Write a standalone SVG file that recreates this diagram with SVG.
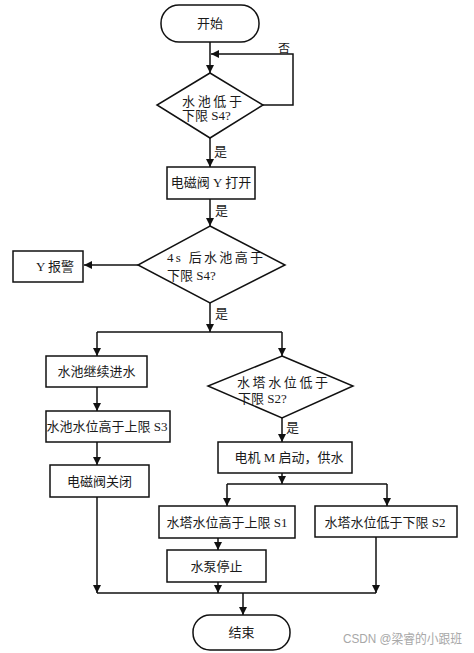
<svg xmlns="http://www.w3.org/2000/svg" width="474" height="653" viewBox="0 0 474 653">
<defs>
<marker id="ah" markerUnits="userSpaceOnUse" markerWidth="9" markerHeight="8" refX="8" refY="4" orient="auto">
<path d="M0,0 L8,4 L0,8 Z" fill="#111"/>
</marker>
<style>
.n{fill:#fff;stroke:#111;stroke-width:1.5}
.c{fill:none;stroke:#111;stroke-width:1.5}
.a{marker-end:url(#ah)}
text{font-family:"Liberation Serif","Noto Sans CJK SC",serif;font-size:13px;fill:#1a1a1a}
.m{text-anchor:middle}
.w{font-family:"Liberation Sans","Noto Sans CJK SC",sans-serif;fill:#a8a8a8}
</style>
</defs>
<rect width="474" height="653" fill="#fff"/>
<g id="connectors">
<line class="c a" x1="210" y1="42" x2="210" y2="73"/>
<polyline class="c a" points="263,105 293,105 293,54 211,54"/>
<line class="c a" x1="210" y1="138" x2="210" y2="167"/>
<line class="c a" x1="210" y1="199" x2="210" y2="226"/>
<line class="c a" x1="138" y1="265" x2="84" y2="265"/>
<line class="c a" x1="210" y1="303" x2="210" y2="332"/>
<line class="c" x1="97" y1="332" x2="282" y2="332"/>
<line class="c a" x1="97" y1="332" x2="97" y2="356"/>
<line class="c a" x1="282" y1="332" x2="282" y2="356"/>
<line class="c a" x1="97" y1="387" x2="97" y2="411"/>
<line class="c a" x1="97" y1="442" x2="97" y2="465"/>
<line class="c a" x1="97" y1="497" x2="97" y2="593"/>
<line class="c a" x1="282" y1="418" x2="282" y2="442"/>
<line class="c a" x1="282" y1="473" x2="282" y2="484"/>
<line class="c" x1="227" y1="484" x2="387" y2="484"/>
<line class="c a" x1="227" y1="484" x2="227" y2="506"/>
<line class="c a" x1="387" y1="484" x2="387" y2="506"/>
<line class="c a" x1="218" y1="538" x2="218" y2="550"/>
<line class="c a" x1="218" y1="582" x2="218" y2="593"/>
<line class="c a" x1="376" y1="537" x2="376" y2="593"/>
<line class="c" x1="97" y1="593" x2="376" y2="593"/>
<line class="c a" x1="243" y1="593" x2="243" y2="615"/>
<text x="284" y="53" class="m" style="font-size:12px">否</text>
<text x="214" y="156">是</text>
<text x="215" y="215">是</text>
<text x="215" y="318">是</text>
<text x="286" y="432">是</text>
</g>
<g id="start">
<rect class="n" x="161" y="5" width="98" height="37" rx="18"/>
<text x="210" y="28" class="m">开始</text>
</g>
<g id="d1">
<polygon class="n" points="210,73 263,105 210,138 157,105"/>
<text x="182" y="106" textLength="60" lengthAdjust="spacing">水池低于</text>
<text x="182" y="120">下限 S4?</text>
</g>
<g id="valveOpen">
<rect class="n" x="167" y="167" width="88" height="32"/>
<text x="211" y="187" class="m">电磁阀 Y 打开</text>
</g>
<g id="d2">
<polygon class="n" points="210,226 285,265 210,303 138,265"/>
<text x="167" y="262" textLength="96" lengthAdjust="spacing">4s 后水池高于</text>
<text x="167" y="280">下限 S4?</text>
</g>
<g id="alarm">
<rect class="n" x="13" y="251" width="70" height="31"/>
<text x="55" y="271" class="m">Y 报警</text>
</g>
<g id="fill">
<rect class="n" x="46" y="356" width="101" height="31"/>
<text x="96.5" y="376" class="m">水池继续进水</text>
</g>
<g id="s3">
<rect class="n" x="46" y="411" width="124" height="31"/>
<text x="107" y="431" class="m">水池水位高于上限 S3</text>
</g>
<g id="valveClose">
<rect class="n" x="50" y="465" width="99" height="32"/>
<text x="99.5" y="486" class="m">电磁阀关闭</text>
</g>
<g id="d3">
<polygon class="n" points="282,356 353,386 282,418 208,386"/>
<text x="237" y="387" textLength="91" lengthAdjust="spacing">水塔水位低于</text>
<text x="238" y="403">下限 S2?</text>
</g>
<g id="motor">
<rect class="n" x="218" y="442" width="134" height="31"/>
<text x="289" y="462" class="m">电机 M 启动，供水</text>
</g>
<g id="s1">
<rect class="n" x="159" y="506" width="136" height="32"/>
<text x="227" y="527" class="m">水塔水位高于上限 S1</text>
</g>
<g id="s2">
<rect class="n" x="315" y="506" width="142" height="31"/>
<text x="385" y="527" class="m">水塔水位低于下限 S2</text>
</g>
<g id="pumpStop">
<rect class="n" x="167" y="550" width="99" height="32"/>
<text x="216.5" y="571" class="m">水泵停止</text>
</g>
<g id="end">
<rect class="n" x="193" y="615" width="97" height="35" rx="17"/>
<text x="241.5" y="637" class="m">结束</text>
</g>
<text class="w" x="343" y="643" textLength="119" lengthAdjust="spacingAndGlyphs">CSDN @梁睿的小跟班</text>
</svg>
